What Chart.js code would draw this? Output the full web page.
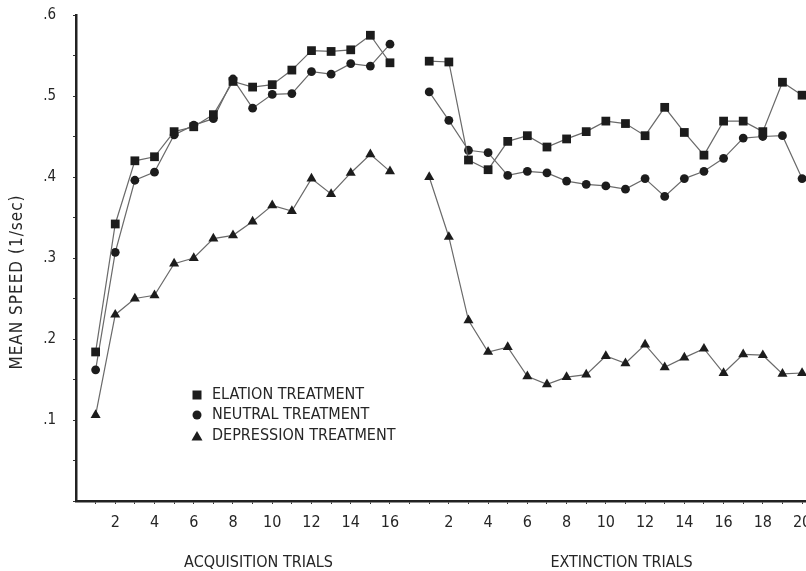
<!DOCTYPE html>
<html>
<head>
<meta charset="utf-8">
<script src="https://cdn.jsdelivr.net/npm/chart.js@4/dist/chart.umd.min.js"></script>
<style>
  html, body { margin: 0; padding: 0; background: #fff; }
  #wrap { width: 806px; height: 571px; position: relative; }
</style>
</head>
<body>
<div id="wrap"><canvas id="chart"></canvas></div>
<script>
// trials
const acqTrials = [1, 2, 3, 4, 5, 6, 7, 8, 9, 10, 11, 12, 13, 14, 15, 16];
const extTrials = [1, 2, 3, 4, 5, 6, 7, 8, 9, 10, 11, 12, 13, 14, 15, 16, 17, 18, 19, 20];

// mean speed (1/sec), acquisition
const acqElation    = [0.184, 0.342, 0.420, 0.425, 0.456, 0.462, 0.477, 0.518, 0.511, 0.514, 0.532, 0.556, 0.555, 0.557, 0.575, 0.541];
const acqNeutral    = [0.162, 0.307, 0.396, 0.406, 0.452, 0.464, 0.472, 0.521, 0.485, 0.502, 0.503, 0.530, 0.527, 0.540, 0.537, 0.564];
const acqDepression = [0.106, 0.230, 0.250, 0.254, 0.293, 0.300, 0.324, 0.328, 0.345, 0.365, 0.358, 0.398, 0.379, 0.405, 0.428, 0.407];

// mean speed (1/sec), extinction
const extElation    = [0.543, 0.542, 0.421, 0.409, 0.444, 0.451, 0.437, 0.447, 0.456, 0.469, 0.466, 0.451, 0.486, 0.455, 0.427, 0.469, 0.469, 0.456, 0.517, 0.501];
const extNeutral    = [0.505, 0.470, 0.433, 0.430, 0.402, 0.407, 0.405, 0.395, 0.391, 0.389, 0.385, 0.398, 0.376, 0.398, 0.407, 0.423, 0.448, 0.450, 0.451, 0.398];
const extDepression = [0.400, 0.326, 0.223, 0.184, 0.190, 0.154, 0.144, 0.153, 0.156, 0.179, 0.170, 0.193, 0.165, 0.177, 0.188, 0.158, 0.181, 0.180, 0.157, 0.158];

const seriesNames = ['ELATION TREATMENT', 'NEUTRAL TREATMENT', 'DEPRESSION TREATMENT'];
const yTickLabels = ['.1', '.2', '.3', '.4', '.5', '.6'];
const acqTickLabels = ['2', '4', '6', '8', '10', '12', '14', '16'];
const extTickLabels = ['2', '4', '6', '8', '10', '12', '14', '16', '18', '20'];
const phaseTitles = ['ACQUISITION TRIALS', 'EXTINCTION TRIALS'];
const yTitle = 'MEAN SPEED (1/sec)';

const EXT_OFFSET = 17; // extinction trial t sits at x = t + 17, leaving a gap after acquisition
const FONT = '"Liberation Sans Narrow", "DejaVu Sans Condensed", "Roboto Condensed", sans-serif';
const INK = '#262626';

function points(acq, ext) {
  const a = acqTrials.map((t, i) => ({ x: t, y: acq[i] }));
  const e = extTrials.map((t, i) => ({ x: t + EXT_OFFSET, y: ext[i] }));
  return a.concat([{ x: EXT_OFFSET, y: null }], e);
}

const styles = [
  { pointStyle: 'rect', pointRadius: 6.2 },
  { pointStyle: 'circle', pointRadius: 4.4 },
  { pointStyle: 'triangle', pointRadius: 5.8 }
];
const seriesData = [
  points(acqElation, extElation),
  points(acqNeutral, extNeutral),
  points(acqDepression, extDepression)
];

const datasets = seriesNames.map((name, i) => ({
  label: name,
  data: seriesData[i],
  borderColor: '#6a6a6a',
  borderWidth: 1.2,
  backgroundColor: '#1c1c1c',
  pointBackgroundColor: '#1c1c1c',
  pointBorderColor: '#1c1c1c',
  pointBorderWidth: 0,
  pointStyle: styles[i].pointStyle,
  pointRadius: styles[i].pointRadius,
  spanGaps: false,
  tension: 0
}));

const xTickValues = acqTrials.concat([EXT_OFFSET], extTrials.map(t => t + EXT_OFFSET));

function xLabel(v) {
  if (v <= 16) {
    const s = String(v);
    return acqTickLabels.includes(s) ? s : '';
  }
  const s = String(v - EXT_OFFSET);
  return extTickLabels.includes(s) ? s : '';
}

// phase titles, y title and the legend box inside the plot
const textPlugin = {
  id: 'texts',
  afterDraw(chart) {
    const ctx = chart.ctx;
    const xs = chart.scales.x;
    ctx.save();
    ctx.fillStyle = INK;
    ctx.textBaseline = 'middle';

    ctx.font = '16px ' + FONT;
    ctx.textAlign = 'center';
    ctx.fillText(phaseTitles[0], xs.getPixelForValue(9.3), 563);
    ctx.fillText(phaseTitles[1], xs.getPixelForValue(27.8), 563);

    ctx.save();
    ctx.translate(18, 282);
    ctx.rotate(-Math.PI / 2);
    ctx.font = '17px ' + FONT;
    ctx.letterSpacing = '1px';
    ctx.fillText(yTitle, 0, 0);
    ctx.restore();

    ctx.textAlign = 'left';
    ctx.font = '16px ' + FONT;
    const rows = [395, 415, 436];
    const mx = 197;
    seriesNames.forEach((name, i) => {
      const y = rows[i];
      ctx.fillStyle = '#1c1c1c';
      ctx.beginPath();
      if (i === 0) {
        ctx.rect(mx - 4.5, y - 4.5, 9, 9);
      } else if (i === 1) {
        ctx.arc(mx, y, 4.5, 0, Math.PI * 2);
      } else {
        ctx.moveTo(mx, y - 5);
        ctx.lineTo(mx + 5.5, y + 4.5);
        ctx.lineTo(mx - 5.5, y + 4.5);
        ctx.closePath();
      }
      ctx.fill();
      ctx.fillStyle = INK;
      ctx.fillText(name, 212, y);
    });
    ctx.restore();
  }
};

new Chart(document.getElementById('chart'), {
  type: 'line',
  data: { datasets },
  options: {
    responsive: true,
    maintainAspectRatio: false,
    animation: false,
    layout: { autoPadding: false, padding: { top: 15, right: 0, left: 0, bottom: 0 } },
    plugins: {
      legend: { display: false },
      tooltip: { enabled: false }
    },
    scales: {
      x: {
        type: 'linear',
        min: 0,
        max: 37.2,
        afterBuildTicks: (s) => {
          s.ticks = xTickValues.map(v => ({ value: v }));
        },
        afterFit: (s) => {
          s.height = 70;
          s.paddingLeft = 0;
          s.paddingRight = 0;
        },
        ticks: {
          autoSkip: false,
          maxRotation: 0,
          padding: 9,
          color: INK,
          font: { family: FONT, size: 16 },
          callback: (v) => xLabel(v)
        },
        grid: { drawOnChartArea: false, drawTicks: true, tickLength: 3, color: '#333', lineWidth: 1 },
        border: { color: '#222', width: 2.5 }
      },
      y: {
        min: 0,
        max: 0.6,
        afterFit: (s) => {
          s.width = 76;
          s.paddingTop = 0;
          s.paddingBottom = 0;
        },
        ticks: {
          stepSize: 0.05,
          padding: 17,
          color: INK,
          font: { family: FONT, size: 15 },
          callback: (v) => {
            const k = Math.round(v * 10);
            if (Math.abs(v * 10 - k) > 1e-6 || k < 1) return '';
            return yTickLabels[k - 1];
          }
        },
        grid: { drawOnChartArea: false, drawTicks: true, tickLength: 3, color: '#333', lineWidth: 1 },
        border: { color: '#222', width: 2.5 }
      }
    }
  },
  plugins: [textPlugin]
});
</script>
</body>
</html>
